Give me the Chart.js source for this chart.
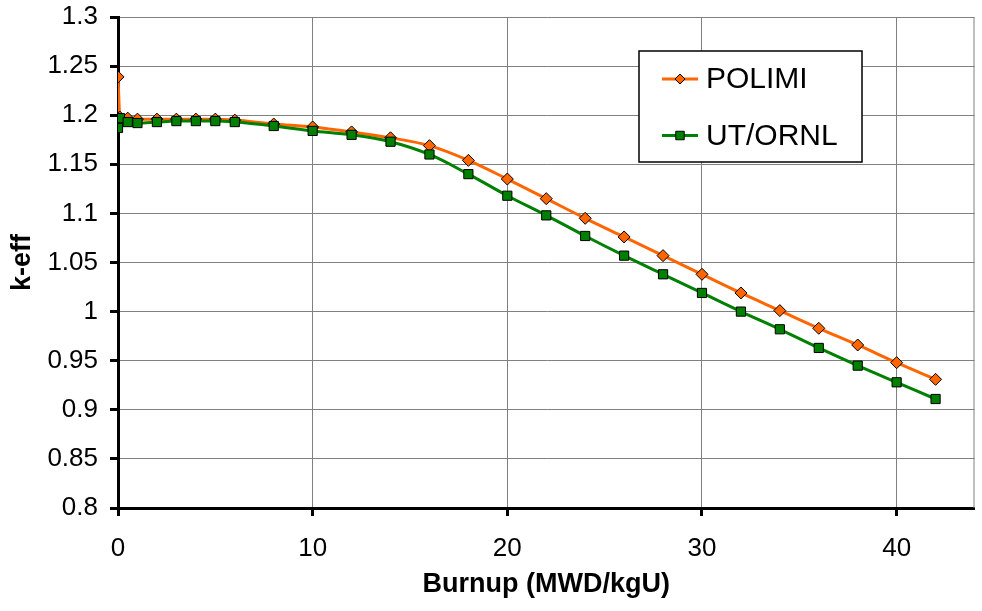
<!DOCTYPE html>
<html>
<head>
<meta charset="utf-8">
<script src="https://cdn.jsdelivr.net/npm/chart.js@4.4.0/dist/chart.umd.min.js"></script>
<style>
  body { margin: 0; background: #fff; }
</style>
</head>
<body>
<canvas id="myChart" width="982" height="611"></canvas>
<script>
// burnup steps (MWD/kgU)
const burnup = [0, 0.1, 0.5, 1, 2, 3, 4, 5, 6, 8, 10, 12, 14, 16, 18, 20, 22, 24, 26, 28, 30, 32, 34, 36, 38, 40, 42];
const polimi = [1.239, 1.198, 1.197, 1.196, 1.196, 1.196, 1.196, 1.196, 1.195, 1.191, 1.188, 1.183, 1.177, 1.169, 1.154, 1.135, 1.115, 1.095, 1.076, 1.057, 1.038, 1.019, 1.001, 0.983, 0.966, 0.948, 0.931];
const utornl = [1.187, 1.197, 1.193, 1.192, 1.193, 1.194, 1.194, 1.194, 1.193, 1.189, 1.184, 1.180, 1.173, 1.160, 1.140, 1.118, 1.098, 1.077, 1.057, 1.038, 1.019, 1.000, 0.982, 0.963, 0.945, 0.928, 0.911];
const seriesNames = ['POLIMI', 'UT/ORNL'];

const FONT = '"Liberation Sans", Arial, sans-serif';

function toPoints(xs, ys) {
    return xs.map((x, i) => ({ x: x, y: ys[i] }));
}

// box legend drawn inside the plot, like the original
const boxLegend = {
    id: 'boxLegend',
    afterDraw(chart) {
        const ctx = chart.ctx;
        const area = chart.chartArea;
        const bx = area.left + 521, by = area.top + 34, bw = 223, bh = 111;
        ctx.save();
        ctx.fillStyle = '#fff';
        ctx.fillRect(bx, by, bw, bh);
        ctx.strokeStyle = '#000';
        ctx.lineWidth = 1.5;
        ctx.strokeRect(bx, by, bw, bh);

        chart.data.datasets.forEach((ds, i) => {
            const y = by + 28 + i * 56.5;
            ctx.strokeStyle = ds.borderColor;
            ctx.lineWidth = 3;
            ctx.beginPath();
            ctx.moveTo(bx + 23, y);
            ctx.lineTo(bx + 59, y);
            ctx.stroke();
            ctx.fillStyle = ds.pointBackgroundColor;
            ctx.strokeStyle = '#000';
            ctx.lineWidth = 1;
            Chart.helpers.drawPoint(ctx, {
                pointStyle: ds.pointStyle,
                radius: ds.pointStyle === 'rect' ? 6 : 5,
                borderWidth: 1,
                rotation: 0
            }, bx + 41, y);
            ctx.fillStyle = '#000';
            ctx.font = '30px ' + FONT;
            ctx.textAlign = 'left';
            ctx.textBaseline = 'middle';
            ctx.fillText(ds.label, bx + 67, y + 1);
        });
        ctx.restore();
    }
};

// thin grey frame on the right side of the plot
const plotFrame = {
    id: 'plotFrame',
    beforeDatasetsDraw(chart) {
        const ctx = chart.ctx;
        const a = chart.chartArea;
        ctx.save();
        ctx.strokeStyle = '#808080';
        ctx.lineWidth = 1;
        ctx.beginPath();
        ctx.moveTo(a.right - 0.5, a.top);
        ctx.lineTo(a.right - 0.5, a.bottom);
        ctx.stroke();
        ctx.restore();
    }
};

const ctx = document.getElementById('myChart');

new Chart(ctx, {
    type: 'line',
    data: {
        datasets: [{
            label: seriesNames[0],
            data: toPoints(burnup, polimi),
            borderColor: '#FF6600',
            backgroundColor: '#FF6600',
            pointBackgroundColor: '#FF6600',
            pointBorderColor: '#000',
            pointBorderWidth: 1,
            pointStyle: 'rectRot',
            pointRadius: 6,
            borderWidth: 3,
            cubicInterpolationMode: 'monotone',
            order: 1
        }, {
            label: seriesNames[1],
            data: toPoints(burnup, utornl),
            borderColor: '#008000',
            backgroundColor: '#008000',
            pointBackgroundColor: '#008000',
            pointBorderColor: '#000',
            pointBorderWidth: 1,
            pointStyle: 'rect',
            pointRadius: 6.5,
            borderWidth: 3,
            cubicInterpolationMode: 'monotone',
            order: 0
        }]
    },
    options: {
        responsive: false,
        animation: false,
        devicePixelRatio: 1,
        layout: { padding: { top: 17, right: 5, left: 0, bottom: 0 } },
        plugins: {
            legend: { display: false },
            tooltip: { enabled: false }
        },
        scales: {
            x: {
                type: 'linear',
                min: 0,
                max: 44,
                afterFit: (s) => {
                    s.height = 103;
                    s.paddingLeft = 0;
                    s.paddingRight = 0;
                },
                ticks: {
                    stepSize: 10,
                    includeBounds: false,
                    color: '#000',
                    padding: 17,
                    maxRotation: 0,
                    font: { family: FONT, size: 26 }
                },
                grid: {
                    color: '#808080',
                    lineWidth: 1,
                    tickColor: '#000',
                    tickWidth: 3,
                    tickLength: 8
                },
                border: { color: '#000', width: 3 },
                title: {
                    display: true,
                    text: 'Burnup (MWD/kgU)',
                    color: '#000',
                    font: { family: FONT, size: 27, weight: 'bold' },
                    padding: { top: 0, bottom: 10 }
                }
            },
            y: {
                min: 0.8,
                max: 1.3,
                afterFit: (s) => {
                    s.width = 118;
                    s.paddingTop = 0;
                    s.paddingBottom = 0;
                },
                ticks: {
                    stepSize: 0.05,
                    color: '#000',
                    padding: 12,
                    font: { family: FONT, size: 26 },
                    callback: (v) => String(parseFloat(v.toFixed(2)))
                },
                grid: {
                    color: '#808080',
                    lineWidth: 1,
                    tickColor: '#000',
                    tickWidth: 3,
                    tickLength: 8
                },
                border: { color: '#000', width: 3 },
                title: {
                    display: true,
                    text: 'k-eff',
                    color: '#000',
                    font: { family: FONT, size: 27, weight: 'bold' },
                    padding: { top: 6, bottom: 0 }
                }
            }
        }
    },
    plugins: [plotFrame, boxLegend]
});
</script>
</body>
</html>
